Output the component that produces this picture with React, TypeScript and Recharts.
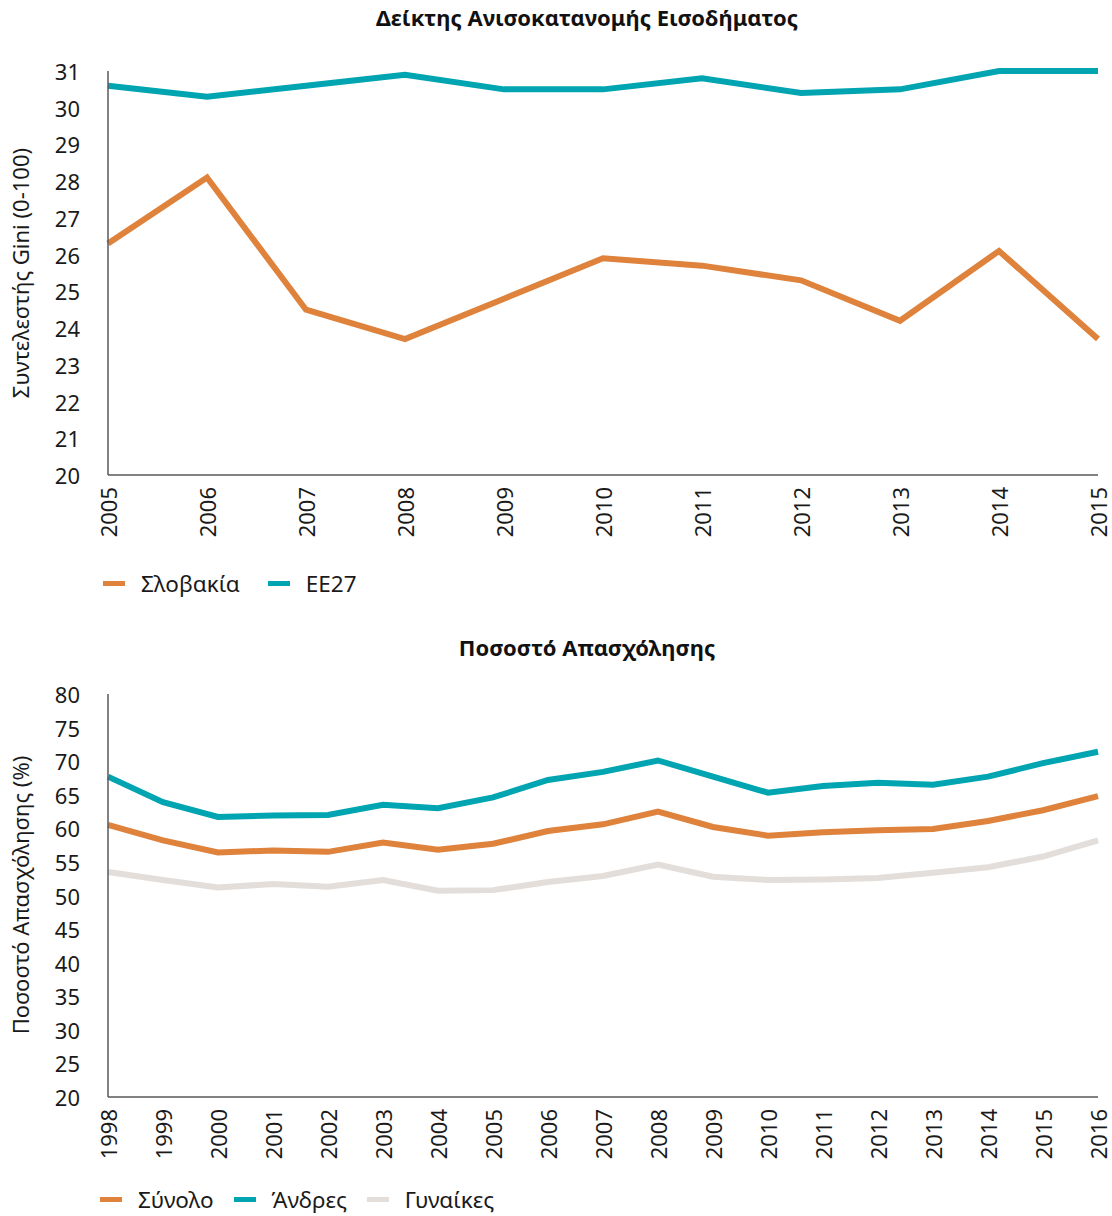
import { Line, LineChart, XAxis, YAxis } from 'recharts';

// Gini coefficient chart
const GINI_YEARS = ['2005', '2006', '2007', '2008', '2009', '2010', '2011', '2012', '2013', '2014', '2015'];
const SLOVAKIA = [26.3, 28.1, 24.5, 23.7, 24.8, 25.9, 25.7, 25.3, 24.2, 26.1, 23.7];
const EU27 = [30.6, 30.3, 30.6, 30.9, 30.5, 30.5, 30.8, 30.4, 30.5, 31.0, 31.0];
const GINI_TICKS = [20, 21, 22, 23, 24, 25, 26, 27, 28, 29, 30, 31];

// Employment rate chart
const EMP_YEARS = [
  '1998', '1999', '2000', '2001', '2002', '2003', '2004', '2005', '2006', '2007',
  '2008', '2009', '2010', '2011', '2012', '2013', '2014', '2015', '2016'
];
const TOTAL = [60.5, 58.2, 56.4, 56.7, 56.5, 57.9, 56.8, 57.7, 59.6, 60.6, 62.5, 60.2, 58.9, 59.4, 59.7, 59.9, 61.1, 62.7, 64.8];
const MEN = [67.7, 63.9, 61.7, 61.9, 62.0, 63.5, 63.0, 64.6, 67.2, 68.4, 70.1, 67.7, 65.3, 66.3, 66.8, 66.5, 67.7, 69.7, 71.4];
const WOMEN = [53.5, 52.3, 51.2, 51.7, 51.3, 52.3, 50.7, 50.8, 52.0, 52.9, 54.6, 52.8, 52.3, 52.4, 52.6, 53.4, 54.2, 55.8, 58.2];
const EMP_TICKS = [20, 25, 30, 35, 40, 45, 50, 55, 60, 65, 70, 75, 80];

const ORANGE = '#DE823C';
const TEAL = '#00A5B1';
const GREY = '#E3DEDA';
const AXIS = '#595959';
const FONT = '"Noto Sans", sans-serif';

const giniData = GINI_YEARS.map((year, i) => ({ year, slovakia: SLOVAKIA[i], eu27: EU27[i] }));
const empData = EMP_YEARS.map((year, i) => ({ year, total: TOTAL[i], men: MEN[i], women: WOMEN[i] }));

const XTick = ({ x, y, payload }: any) => (
  <text
    x={x}
    y={y}
    transform={`rotate(-90 ${x} ${y})`}
    textAnchor="end"
    dominantBaseline="central"
    fill="#1a1a1a"
    fontSize={22}
    fontFamily={FONT}
  >
    {payload.value}
  </text>
);

const YTick = ({ x, y, payload }: any) => (
  <text x={x} y={y} textAnchor="end" dominantBaseline="central" fill="#1a1a1a" fontSize={22} fontFamily={FONT}>
    {payload.value}
  </text>
);

const LegendRow = ({ items, top, left, gap }: { items: { name: string; color: string }[]; top: number; left: number; gap: number }) => (
  <div style={{ position: 'absolute', top, left, display: 'flex', alignItems: 'center', gap, fontFamily: FONT, fontSize: 22.5, color: '#1a1a1a' }}>
    {items.map((it) => (
      <div key={it.name} style={{ display: 'flex', alignItems: 'center', gap: 16 }}>
        <span style={{ width: 22, height: 5, background: it.color, display: 'inline-block' }} />
        {it.name}
      </div>
    ))}
  </div>
);

const titleStyle = (top: number): React.CSSProperties => ({
  position: 'absolute',
  top,
  left: 0,
  width: 1174,
  textAlign: 'center',
  fontFamily: FONT,
  fontWeight: 700,
  fontSize: 22,
  color: '#111'
});

const yLabelStyle = (centerY: number): React.CSSProperties => ({
  position: 'absolute',
  left: 20,
  top: centerY,
  transform: 'translate(-50%, -50%) rotate(-90deg)',
  whiteSpace: 'nowrap',
  fontFamily: FONT,
  fontSize: 22,
  color: '#1a1a1a'
});

export default function App() {
  return (
    <div style={{ position: 'absolute', left: 0, top: 0, width: 1112, height: 1216, background: '#fff', overflow: 'hidden' }}>
      {/* Gini chart */}
      <div style={titleStyle(2)}>Δείκτης Ανισοκατανομής Εισοδήματος</div>
      <div style={yLabelStyle(273)}>Συντελεστής Gini (0-100)</div>
      <div style={{ position: 'absolute', left: 0, top: 0 }}>
        <LineChart width={1112} height={560} data={giniData} margin={{ top: 71, right: 14, left: 28, bottom: 5 }}>
          <XAxis
            dataKey="year"
            stroke={AXIS}
            strokeWidth={1.5}
            tickLine={false}
            tickSize={0}
            tickMargin={12}
            interval={0}
            height={80}
            tick={<XTick />}
          />
          <YAxis
            domain={[20, 31]}
            ticks={GINI_TICKS}
            stroke={AXIS}
            strokeWidth={1.5}
            tickLine={false}
            tickSize={0}
            tickMargin={28}
            width={80}
            interval={0}
            tick={<YTick />}
          />
          <Line type="linear" dataKey="slovakia" stroke={ORANGE} strokeWidth={6} dot={false} isAnimationActive={false} />
          <Line type="linear" dataKey="eu27" stroke={TEAL} strokeWidth={6} dot={false} isAnimationActive={false} />
        </LineChart>
      </div>
      <LegendRow top={568} left={103} gap={28} items={[{ name: 'Σλοβακία', color: ORANGE }, { name: 'EE27', color: TEAL }]} />

      {/* Employment chart */}
      <div style={titleStyle(632)}>Ποσοστό Απασχόλησης</div>
      <div style={yLabelStyle(895)}>Ποσοστό Απασχόλησης (%)</div>
      <div style={{ position: 'absolute', left: 0, top: 620 }}>
        <LineChart width={1112} height={560} data={empData} margin={{ top: 74, right: 14, left: 28, bottom: 3 }}>
          <XAxis
            dataKey="year"
            stroke={AXIS}
            strokeWidth={1.5}
            tickLine={false}
            tickSize={0}
            tickMargin={12}
            interval={0}
            height={80}
            tick={<XTick />}
          />
          <YAxis
            domain={[20, 80]}
            ticks={EMP_TICKS}
            stroke={AXIS}
            strokeWidth={1.5}
            tickLine={false}
            tickSize={0}
            tickMargin={28}
            width={80}
            interval={0}
            tick={<YTick />}
          />
          <Line type="linear" dataKey="total" stroke={ORANGE} strokeWidth={6} dot={false} isAnimationActive={false} />
          <Line type="linear" dataKey="men" stroke={TEAL} strokeWidth={6} dot={false} isAnimationActive={false} />
          <Line type="linear" dataKey="women" stroke={GREY} strokeWidth={6} dot={false} isAnimationActive={false} />
        </LineChart>
      </div>
      <LegendRow
        top={1184}
        left={100}
        gap={20}
        items={[
          { name: 'Σύνολο', color: ORANGE },
          { name: 'Άνδρες', color: TEAL },
          { name: 'Γυναίκες', color: GREY }
        ]}
      />
    </div>
  );
}
